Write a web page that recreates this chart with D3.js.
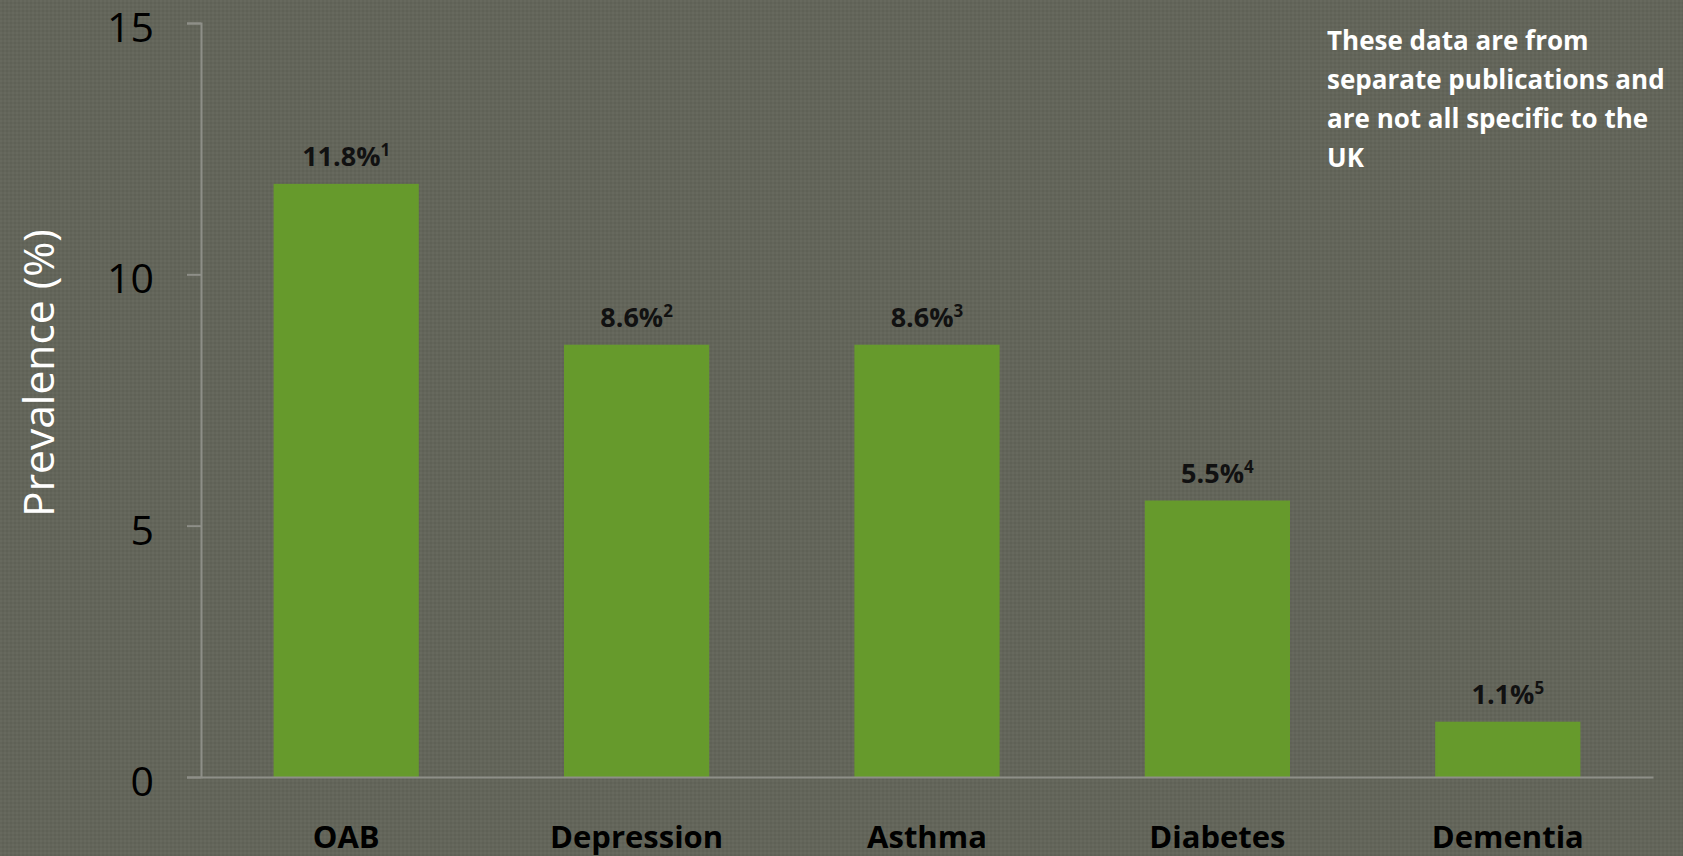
<!DOCTYPE html>
<html>
<head>
<meta charset="utf-8">
<script src="https://cdn.jsdelivr.net/npm/d3@7"></script>
<style>
  html, body { margin: 0; padding: 0; background: #63655a; }
  svg { display: block; }
</style>
</head>
<body>
<svg id="chart" width="1683" height="856"></svg>
<script>
const categories = ["OAB", "Depression", "Asthma", "Diabetes", "Dementia"];
const values = [11.8, 8.6, 8.6, 5.5, 1.1];
const refs = ["1", "2", "3", "4", "5"];
const yTicks = [0, 5, 10, 15];
const yTitle = "Prevalence (%)";
const noteLines = ["These data are from", "separate publications and", "are not all specific to the", "UK"];

const svg = d3.select("#chart");
const W = 1683, H = 856;

// background with subtle texture
const defs = svg.append("defs");
const pat = defs.append("pattern").attr("id", "tex").attr("width", 4).attr("height", 4).attr("patternUnits", "userSpaceOnUse");
pat.append("rect").attr("width", 4).attr("height", 4).attr("fill", "#63655a");
pat.append("rect").attr("x", 0).attr("y", 0).attr("width", 2).attr("height", 2).attr("fill", "#67695e");
pat.append("rect").attr("x", 2).attr("y", 2).attr("width", 2).attr("height", 2).attr("fill", "#5f6156");
svg.append("rect").attr("width", W).attr("height", H).attr("fill", "url(#tex)");

const x0 = 201, x1 = 1653, yTop = 23, yBot = 777;

const x = d3.scaleBand().domain(categories).range([x0, x1]).paddingInner(0.5).paddingOuter(0.25);
const y = d3.scaleLinear().domain([0, 15]).range([yBot, yTop]);

const axisColor = "#8e8f88";

// bars
svg.append("g").selectAll("rect").data(categories).join("rect")
  .attr("x", d => x(d))
  .attr("width", x.bandwidth())
  .attr("y", (d, i) => y(values[i]))
  .attr("height", (d, i) => y(0) - y(values[i]))
  .attr("fill", "#669a2c");

// y axis
const yAxis = svg.append("g").attr("transform", `translate(${x0},0)`)
  .call(d3.axisLeft(y).tickValues(yTicks).tickSize(14).tickPadding(33).tickFormat(d3.format("d")));
yAxis.select(".domain").attr("stroke", axisColor).attr("stroke-width", 2);
yAxis.selectAll(".tick line").attr("stroke", axisColor).attr("stroke-width", 2);
yAxis.selectAll(".tick text")
  .attr("fill", "#000").attr("font-family", "Open Sans, sans-serif").attr("font-size", 41)
  .attr("dy", "0.45em");

// x axis
const xAxis = svg.append("g").attr("transform", `translate(0,${yBot})`)
  .call(d3.axisBottom(x).tickSize(0).tickPadding(49));
xAxis.select(".domain").attr("stroke", axisColor).attr("stroke-width", 2);
xAxis.selectAll(".tick text")
  .attr("fill", "#000").attr("font-family", "Open Sans, sans-serif").attr("font-size", 31).attr("font-weight", "bold");

// value labels
const lbl = svg.append("g").selectAll("text").data(categories).join("text")
  .attr("x", d => x(d) + x.bandwidth() / 2)
  .attr("y", (d, i) => y(values[i]) - 18)
  .attr("text-anchor", "middle")
  .attr("font-family", "Open Sans, sans-serif")
  .attr("font-size", 27)
  .attr("font-weight", "bold")
  .attr("fill", "#111");
lbl.append("tspan").text((d, i) => d3.format(".1f")(values[i]) + "%");
lbl.append("tspan").attr("font-size", 17).attr("dy", -10).text((d, i) => refs[i]);

// y title
svg.append("text")
  .attr("transform", "translate(37,373) rotate(-90)")
  .attr("text-anchor", "middle")
  .attr("dominant-baseline", "central")
  .attr("font-family", "Open Sans, sans-serif")
  .attr("font-size", 42.5)
  .attr("fill", "#fff")
  .text(yTitle);

// note
svg.append("g").selectAll("text").data(noteLines).join("text")
  .attr("x", 1327)
  .attr("y", (d, i) => 50 + i * 39)
  .attr("font-family", "Open Sans, sans-serif")
  .attr("font-size", 26)
  .attr("font-weight", "bold")
  .attr("fill", "#fff")
  .text(d => d);
</script>
</body>
</html>
